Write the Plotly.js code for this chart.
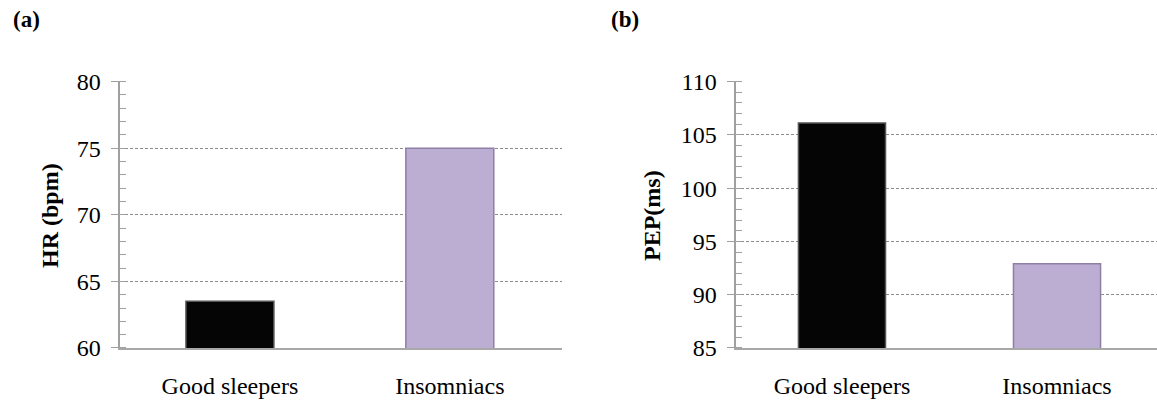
<!DOCTYPE html>
<html>
<head>
<meta charset="utf-8">
<script src="https://cdn.plot.ly/plotly-3.0.1.min.js"></script>
<style>html,body{margin:0;padding:0;background:#fff;}#chart{width:1157px;height:403px;}</style>
</head>
<body>
<div id="chart"></div>
<script>
const categories = ["Good sleepers", "Insomniacs"];
const hrValues = [63.5, 75.0];
const pepValues = [106.1, 92.9];
const barColors = ["#050505", "#bcadd3"];
const barLineColors = ["#555555", "#8f7fa6"];
const hrTicks = [60, 65, 70, 75, 80];
const pepTicks = [85, 90, 95, 100, 105, 110];

const serif = "'Liberation Serif', 'Times New Roman', Times, serif";

const traces = [
  {type: "bar", x: categories, y: hrValues, xaxis: "x", yaxis: "y", width: 0.4,
   marker: {color: barColors, line: {color: barLineColors, width: 1.5}}, hoverinfo: "none"},
  {type: "bar", x: categories, y: pepValues, xaxis: "x2", yaxis: "y2", width: 0.405,
   marker: {color: barColors, line: {color: barLineColors, width: 1.5}}, hoverinfo: "none"}
];

function yAxis(ticks, anchor) {
  const lo = ticks[0], hi = ticks[ticks.length - 1];
  return {
    anchor: anchor, domain: [0.1365, 0.799],
    range: [lo, hi + (hi - lo) * 0.002],
    tickvals: ticks, ticktext: ticks.map(String),
    ticks: "outside", ticklen: 7, tickcolor: "#a0a0a0", tickwidth: 1,
    ticklabelstandoff: 6,
    showline: true, linecolor: "#a0a0a0", linewidth: 1.5,
    showgrid: true, gridcolor: "#8c8c8c", griddash: "3px,2px", gridwidth: 1,
    zeroline: false,
    tickfont: {family: serif, size: 24, color: "#000"},
    minor: {dtick: 1, ticks: "inside", ticklen: 6, tickcolor: "#a0a0a0", showgrid: false},
    fixedrange: true
  };
}
function xAxis(domain, range, anchor) {
  return {
    anchor: anchor, domain: domain, range: range, type: "category",
    showline: true, linecolor: "#a8a8a8", linewidth: 2,
    ticks: "outside", ticklen: 15, tickcolor: "rgba(0,0,0,0)",
    showgrid: false, zeroline: false,
    tickfont: {family: serif, size: 24, color: "#000"},
    fixedrange: true
  };
}

const layout = {
  width: 1157, height: 403,
  margin: {l: 0, r: 0, t: 0, b: 0},
  font: {family: serif, color: "#000"},
  paper_bgcolor: "#fff", plot_bgcolor: "#fff",
  showlegend: false,
  xaxis: xAxis([0.1037, 0.4857], [-0.5, 1.51], "y"),
  yaxis: yAxis(hrTicks, "x"),
  xaxis2: xAxis([0.6361, 1.0], [-0.493, 1.465], "y2"),
  yaxis2: yAxis(pepTicks, "x2"),
  annotations: [
    {text: "<b>(a)</b>", xref: "paper", yref: "paper", x: 11/1157, y: (403-19)/403, xanchor: "left", yanchor: "middle",
     showarrow: false, font: {family: serif, size: 23, color: "#000"}},
    {text: "<b>(b)</b>", xref: "paper", yref: "paper", x: 609/1157, y: (403-19)/403, xanchor: "left", yanchor: "middle",
     showarrow: false, font: {family: serif, size: 23, color: "#000"}},
    {text: "<b>HR (bpm)</b>", xref: "paper", yref: "paper", x: 50/1157, y: (403-216)/403, xanchor: "center", yanchor: "middle",
     textangle: -90, showarrow: false, font: {family: serif, size: 24, color: "#000"}},
    {text: "<b>PEP(ms)</b>", xref: "paper", yref: "paper", x: 652/1157, y: (403-215)/403, xanchor: "center", yanchor: "middle",
     textangle: -90, showarrow: false, font: {family: serif, size: 24, color: "#000"}}
  ]
};

Plotly.newPlot("chart", traces, layout, {displayModeBar: false, staticPlot: true});
</script>
</body>
</html>
